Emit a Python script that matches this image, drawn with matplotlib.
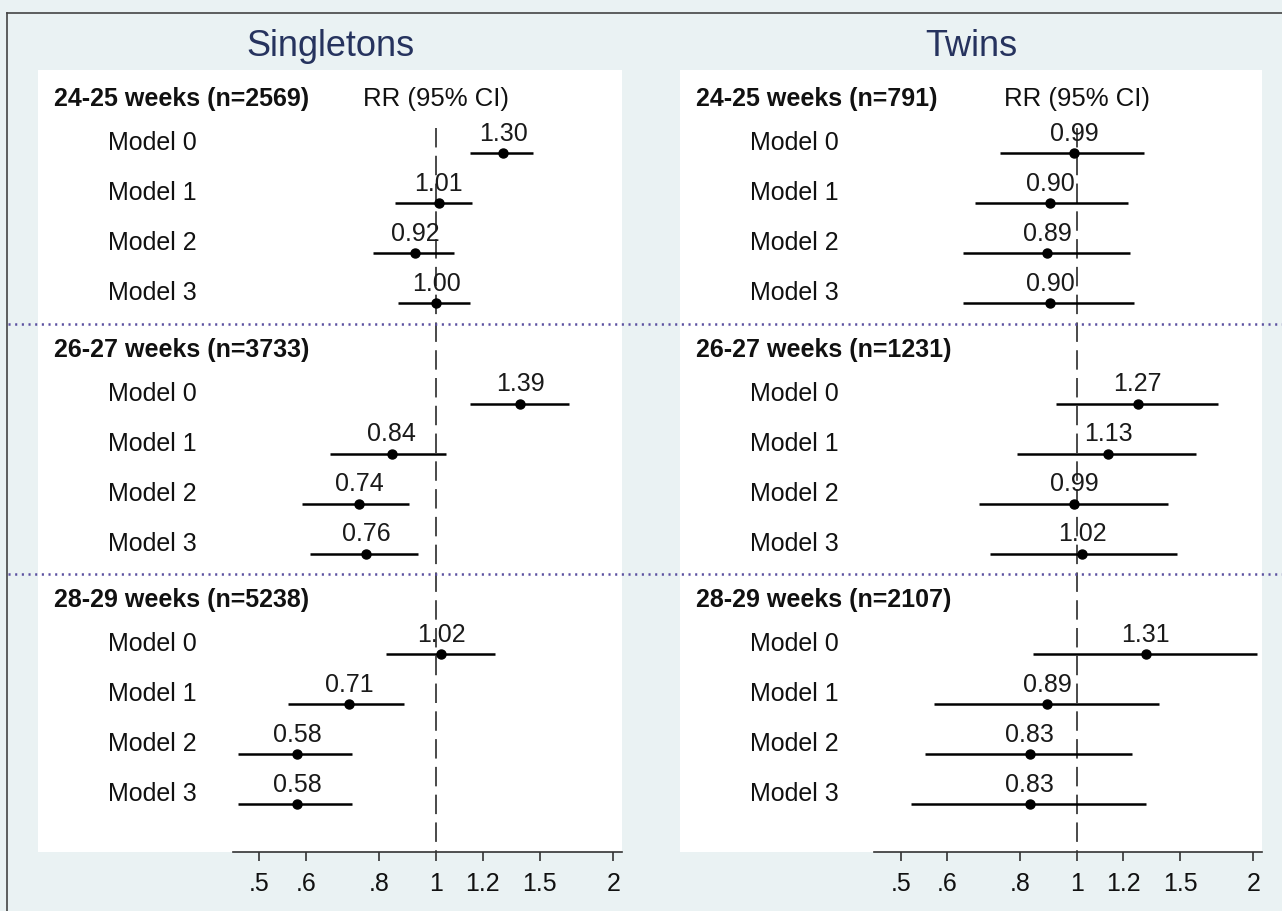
import matplotlib
matplotlib.use('Agg')
import matplotlib.pyplot as plt
from matplotlib import transforms
from matplotlib.lines import Line2D
from matplotlib.ticker import FixedLocator, NullLocator

plt.rcParams['font.family'] = ['Liberation Sans', 'DejaVu Sans']
plt.rcParams['lines.scale_dashes'] = False

# data
groups = ['24-25 weeks', '26-27 weeks', '28-29 weeks']
models = ['Model 0', 'Model 1', 'Model 2', 'Model 3']

n_single = [2569, 3733, 5238]
single_rr = [[1.30, 1.01, 0.92, 1.00], [1.39, 0.84, 0.74, 0.76], [1.02, 0.71, 0.58, 0.58]]
single_lo = [[1.14, 0.85, 0.78, 0.86], [1.14, 0.66, 0.59, 0.61], [0.82, 0.56, 0.46, 0.46]]
single_hi = [[1.46, 1.15, 1.07, 1.14], [1.68, 1.04, 0.90, 0.93], [1.26, 0.88, 0.72, 0.72]]

n_twins = [791, 1231, 2107]
twin_rr = [[0.99, 0.90, 0.89, 0.90], [1.27, 1.13, 0.99, 1.02], [1.31, 0.89, 0.83, 0.83]]
twin_lo = [[0.74, 0.67, 0.64, 0.64], [0.92, 0.79, 0.68, 0.71], [0.84, 0.57, 0.55, 0.52]]
twin_hi = [[1.30, 1.22, 1.23, 1.25], [1.74, 1.60, 1.43, 1.48], [2.03, 1.38, 1.24, 1.31]]

xticks = [0.5, 0.6, 0.8, 1, 1.2, 1.5, 2]
xticklabels = ['.5', '.6', '.8', '1', '1.2', '1.5', '2']

BG = '#eaf2f3'
TITLE_C = '#26335e'
ROW_TOP, ROW_BOT = -0.66, 14.95

fig = plt.figure(figsize=(12.82, 9.11), dpi=100, facecolor=BG)

panels = [
    ('Singletons', n_single, single_rr, single_lo, single_hi, 38 / 1282, 584 / 1282),
    ('Twins', n_twins, twin_rr, twin_lo, twin_hi, 680 / 1282, 582 / 1282),
]

axes = []
for title, ns, rr, lo, hi, x0, w in panels:
    ax = fig.add_axes([x0, 0.06476, w, 0.8584])
    axes.append(ax)
    ax.set_facecolor('white')
    ax.set_xscale('log')
    ax.set_xlim(0.21, 2.07)
    ax.set_ylim(ROW_BOT, ROW_TOP)
    for s in ['left', 'right', 'top']:
        ax.spines[s].set_visible(False)
    ax.spines['bottom'].set_bounds(0.45, 2.07)
    ax.spines['bottom'].set_color('#333333')
    ax.spines['bottom'].set_linewidth(1.2)
    ax.xaxis.set_major_locator(FixedLocator(xticks))
    ax.xaxis.set_minor_locator(NullLocator())
    ax.set_xticklabels(xticklabels)
    ax.tick_params(axis='x', length=6.5, width=1.2, pad=8, labelsize=18,
                   color='#333333', labelcolor='#111111')
    ax.set_yticks([])

    # reference line at RR = 1
    ax.plot([1, 1], [0.5, ROW_BOT], color='#3a3a3a', lw=1.3, dashes=(14, 6),
            zorder=1, clip_on=False)

    for g in range(len(groups)):
        hrow = 5 * g
        ax.text(0.028, hrow + 0.06, f'{groups[g]} (n={ns[g]})', transform=ax.get_yaxis_transform(),
                fontsize=18, fontweight='bold', color='#111111', va='baseline', ha='left')
        if g == 0:
            ax.text(1, hrow + 0.06, 'RR (95% CI)', fontsize=18.5, color='#111111',
                    va='baseline', ha='center')
        for m in range(len(models)):
            r = hrow + m + 1
            ax.text(0.12, r - 0.06, models[m], transform=ax.get_yaxis_transform(),
                    fontsize=18, color='#111111', va='baseline', ha='left')
            ax.plot([lo[g][m], hi[g][m]], [r, r], color='black', lw=1.8,
                    solid_capstyle='butt', zorder=3)
            ax.plot(rr[g][m], r, 'o', color='black', ms=6.5, zorder=4)
            ax.annotate(f'{rr[g][m]:.2f}', (rr[g][m], r), xytext=(0, 9),
                        textcoords='offset points', ha='center', va='baseline',
                        fontsize=18, color='#1a1a1a', zorder=5)

    fig.text(x0 + w / 2, 1 - 47 / 911, title, fontsize=26, color=TITLE_C,
             ha='center', va='center')

# dotted separators between gestational age groups, across the whole figure
sep_tr = transforms.blended_transform_factory(fig.transFigure, axes[0].transData)
for yr in [4.41, 9.41]:
    fig.add_artist(Line2D([8 / 1282, 1], [yr, yr], transform=sep_tr, color='#5b50a0',
                          lw=1.8, dashes=(1.5, 3.3), zorder=6))

# outer border (left and top only visible)
bx, by = 7 / 1282, 1 - 13 / 911
fig.add_artist(Line2D([bx, bx], [0, by], transform=fig.transFigure, color='#444444', lw=1.2))
fig.add_artist(Line2D([bx, 1], [by, by], transform=fig.transFigure, color='#444444', lw=1.2))

fig.savefig('out.png', dpi=100, facecolor=BG)
